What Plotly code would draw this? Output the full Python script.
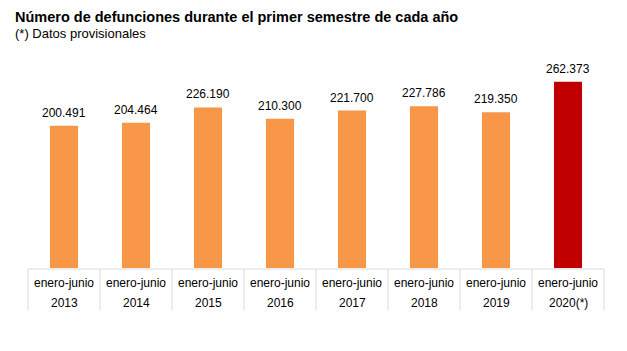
import plotly.graph_objects as go

years = ["2013", "2014", "2015", "2016", "2017", "2018", "2019", "2020(*)"]
period = ["enero-junio"] * 8
values = [200491, 204464, 226190, 210300, 221700, 227786, 219350, 262373]
labels = ["200.491", "204.464", "226.190", "210.300", "221.700", "227.786", "219.350", "262.373"]
colors = ["#F79646"] * 7 + ["#C00000"]

W, H = 627, 351
ml, mr, mt, mb = 28, 23, 40, 83
ph = H - mt - mb
pw = W - ml - mr


def py(Y):
    return (H - mb - Y) / ph


def px(X):
    return (X - ml) / pw


x = list(range(len(values)))
fig = go.Figure(go.Bar(x=x, y=values, width=0.39, marker=dict(color=colors, line=dict(width=0)),
                       hoverinfo="skip"))

ann = []
for i, (v, lab) in enumerate(zip(values, labels)):
    ann.append(dict(x=i, y=v, xref="x", yref="y", text=lab, showarrow=False,
                    yanchor="bottom", yshift=4, font=dict(size=12, color="#000000")))
    ann.append(dict(x=i, y=0, xref="x", yref="paper", text=period[i], showarrow=False,
                    yanchor="middle", yshift=-15, font=dict(size=12, color="#000000")))
    ann.append(dict(x=i, y=0, xref="x", yref="paper", text=years[i], showarrow=False,
                    yanchor="middle", yshift=-35, font=dict(size=12, color="#000000")))

ann.append(dict(x=px(13), y=py(17), xref="paper", yref="paper",
                text="<b>Número de defunciones durante el primer semestre de cada año</b>",
                showarrow=False, xanchor="left", yanchor="middle", font=dict(size=14.5, color="#000000")))
ann.append(dict(x=px(13), y=py(34), xref="paper", yref="paper", text="(*) Datos provisionales",
                showarrow=False, xanchor="left", yanchor="middle", font=dict(size=13, color="#000000")))

n = len(values)
shapes = [dict(type="line", xref="paper", yref="paper", x0=0, x1=1, y0=py(269), y1=py(269),
               line=dict(color="#D9D9D9", width=1))]
for k in range(n + 1):
    shapes.append(dict(type="line", xref="paper", yref="paper", x0=k / n, x1=k / n,
                       y0=py(269), y1=py(310), line=dict(color="#D9D9D9", width=1)))

fig.update_layout(
    width=W, height=H,
    margin=dict(l=ml, r=mr, t=mt, b=mb),
    paper_bgcolor="white", plot_bgcolor="white",
    font=dict(family="Liberation Sans, Arial, sans-serif", color="#000000"),
    showlegend=False,
    xaxis=dict(range=[-0.5, n - 0.5], visible=False, fixedrange=True),
    yaxis=dict(range=[0, ph / 0.00071], visible=False, fixedrange=True),
    annotations=ann, shapes=shapes,
)

fig.write_html("out.html", config={"displayModeBar": False})
